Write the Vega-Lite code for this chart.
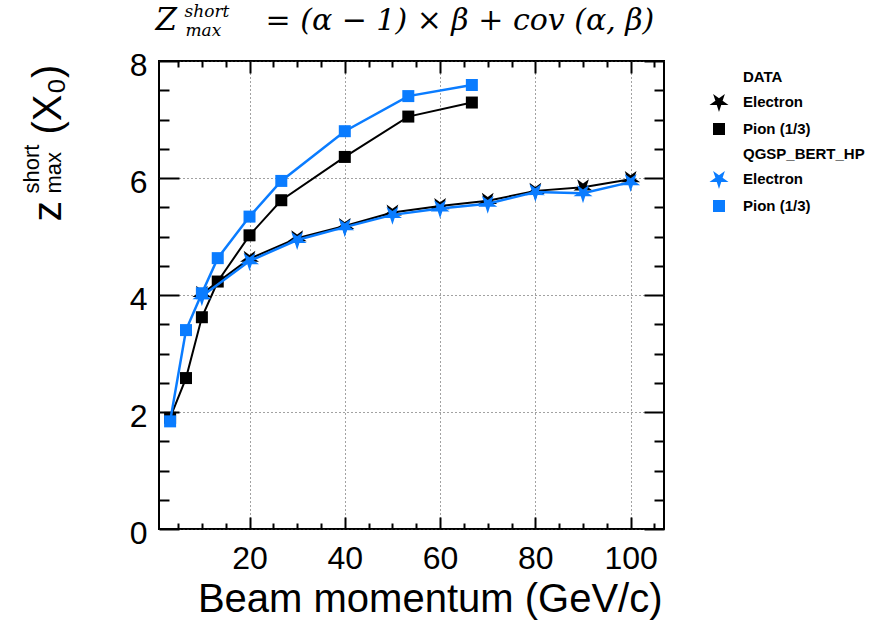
{
  "$schema": "https://vega.github.io/schema/vega-lite/v6.json",
  "width": 505,
  "height": 468,
  "autosize": {"type": "none"},
  "padding": {"left": 159, "top": 61, "right": 213, "bottom": 92},
  "background": "white",
  "data": {
    "values": [
      {"p": 10, "z": 4.02, "key": "Electron|d", "src": "DATA", "kind": "Electron"},
      {"p": 20, "z": 4.62, "key": "Electron|d", "src": "DATA", "kind": "Electron"},
      {"p": 30, "z": 4.97, "key": "Electron|d", "src": "DATA", "kind": "Electron"},
      {"p": 40, "z": 5.18, "key": "Electron|d", "src": "DATA", "kind": "Electron"},
      {"p": 50, "z": 5.41, "key": "Electron|d", "src": "DATA", "kind": "Electron"},
      {"p": 60, "z": 5.52, "key": "Electron|d", "src": "DATA", "kind": "Electron"},
      {"p": 70, "z": 5.61, "key": "Electron|d", "src": "DATA", "kind": "Electron"},
      {"p": 80, "z": 5.78, "key": "Electron|d", "src": "DATA", "kind": "Electron"},
      {"p": 90, "z": 5.84, "key": "Electron|d", "src": "DATA", "kind": "Electron"},
      {"p": 100, "z": 5.98, "key": "Electron|d", "src": "DATA", "kind": "Electron"},
      {"p": 3.33, "z": 1.9, "key": "Pion (1/3)|d", "src": "DATA", "kind": "Pion"},
      {"p": 6.67, "z": 2.58, "key": "Pion (1/3)|d", "src": "DATA", "kind": "Pion"},
      {"p": 10, "z": 3.62, "key": "Pion (1/3)|d", "src": "DATA", "kind": "Pion"},
      {"p": 13.33, "z": 4.23, "key": "Pion (1/3)|d", "src": "DATA", "kind": "Pion"},
      {"p": 20, "z": 5.02, "key": "Pion (1/3)|d", "src": "DATA", "kind": "Pion"},
      {"p": 26.67, "z": 5.62, "key": "Pion (1/3)|d", "src": "DATA", "kind": "Pion"},
      {"p": 40, "z": 6.36, "key": "Pion (1/3)|d", "src": "DATA", "kind": "Pion"},
      {"p": 53.33, "z": 7.05, "key": "Pion (1/3)|d", "src": "DATA", "kind": "Pion"},
      {"p": 66.67, "z": 7.29, "key": "Pion (1/3)|d", "src": "DATA", "kind": "Pion"},
      {"p": 10, "z": 3.98, "key": "Electron|m", "src": "MC", "kind": "Electron"},
      {"p": 20, "z": 4.58, "key": "Electron|m", "src": "MC", "kind": "Electron"},
      {"p": 30, "z": 4.94, "key": "Electron|m", "src": "MC", "kind": "Electron"},
      {"p": 40, "z": 5.16, "key": "Electron|m", "src": "MC", "kind": "Electron"},
      {"p": 50, "z": 5.37, "key": "Electron|m", "src": "MC", "kind": "Electron"},
      {"p": 60, "z": 5.48, "key": "Electron|m", "src": "MC", "kind": "Electron"},
      {"p": 70, "z": 5.56, "key": "Electron|m", "src": "MC", "kind": "Electron"},
      {"p": 80, "z": 5.76, "key": "Electron|m", "src": "MC", "kind": "Electron"},
      {"p": 90, "z": 5.74, "key": "Electron|m", "src": "MC", "kind": "Electron"},
      {"p": 100, "z": 5.93, "key": "Electron|m", "src": "MC", "kind": "Electron"},
      {"p": 3.33, "z": 1.84, "key": "Pion (1/3)|m", "src": "MC", "kind": "Pion"},
      {"p": 6.67, "z": 3.4, "key": "Pion (1/3)|m", "src": "MC", "kind": "Pion"},
      {"p": 10, "z": 4.03, "key": "Pion (1/3)|m", "src": "MC", "kind": "Pion"},
      {"p": 13.33, "z": 4.63, "key": "Pion (1/3)|m", "src": "MC", "kind": "Pion"},
      {"p": 20, "z": 5.34, "key": "Pion (1/3)|m", "src": "MC", "kind": "Pion"},
      {"p": 26.67, "z": 5.95, "key": "Pion (1/3)|m", "src": "MC", "kind": "Pion"},
      {"p": 40, "z": 6.8, "key": "Pion (1/3)|m", "src": "MC", "kind": "Pion"},
      {"p": 53.33, "z": 7.4, "key": "Pion (1/3)|m", "src": "MC", "kind": "Pion"},
      {"p": 66.67, "z": 7.59, "key": "Pion (1/3)|m", "src": "MC", "kind": "Pion"}
    ]
  },
  "config": {
    "view": {"stroke": "black", "strokeWidth": 2},
    "axis": {
      "grid": false, "domain": false, "labels": false, "ticks": false,
      "tickColor": "black", "tickWidth": 2,
      "labelFont": "Liberation Sans", "labelFontSize": 32, "labelColor": "black",
      "labelFlush": false, "labelOverlap": false, "labelBound": false,
      "titleFontWeight": "normal", "titleColor": "black", "titlePadding": 0, "titleLimit": 1000,
      "gridColor": "#444", "gridDash": [1, 3], "gridWidth": 1, "gridOpacity": 1
    },
    "legend": {
      "orient": "none", "legendX": 550, "legendY": 6, "padding": 0,
      "labelFont": "Liberation Sans", "labelFontSize": 15, "labelFontWeight": "bold", "labelColor": "black",
      "symbolSize": 400, "symbolStrokeWidth": 0, "symbolOpacity": 1, "rowPadding": 7, "labelOffset": 14
    }
  },
  "resolve": {"axis": {"x": "independent", "y": "independent"}},
  "layer": [
    {
      "transform": [{"filter": "datum.src === 'DATA'"}],
      "mark": {"type": "line", "color": "black", "strokeWidth": 2},
      "encoding": {
        "x": {"field": "p", "type": "quantitative", "scale": {"domain": [1, 107], "nice": false, "zero": false},
          "axis": {"orient": "bottom", "grid": true, "labels": true, "values": [20, 40, 60, 80, 100], "labelPadding": 14,
            "title": "Beam momentum (GeV/c)", "titleFont": "Liberation Sans", "titleFontSize": 40,
            "titleX": 503, "titleY": 82, "titleAlign": "right", "titleBaseline": "alphabetic", "titleAngle": 0}},
        "y": {"field": "z", "type": "quantitative", "scale": {"domain": [0, 8], "nice": false, "zero": false},
          "axis": {"orient": "left", "grid": true, "labels": true, "values": [0, 2, 4, 6, 8], "labelPadding": 12, "labelOffset": 4,
            "title": "z", "titleFont": "Liberation Sans", "titleFontSize": 41,
            "titleX": -99, "titleY": 160, "titleAlign": "left", "titleBaseline": "alphabetic", "titleAngle": -90}},
        "detail": {"field": "key"}
      }
    },
    {
      "transform": [{"filter": "datum.src === 'DATA' && datum.kind === 'Electron'"}],
      "mark": {"type": "point", "filled": true, "opacity": 1, "size": 400, "strokeWidth": 0},
      "encoding": {
        "x": {"field": "p", "type": "quantitative", "scale": {"domain": [1, 107], "nice": false, "zero": false},
          "axis": {"orient": "bottom", "ticks": true, "tickSize": -12, "values": [20, 40, 60, 80, 100],
            "title": "= (α − 1) × β + cov (α, β)", "titleFont": "DejaVu Serif", "titleFontStyle": "italic", "titleFontSize": 30,
            "titleX": 106, "titleY": -500, "titleAlign": "left", "titleBaseline": "alphabetic", "titleAngle": 0}},
        "y": {"field": "z", "type": "quantitative", "scale": {"domain": [0, 8], "nice": false, "zero": false},
          "axis": {"orient": "left", "ticks": true, "tickSize": -20, "values": [0, 2, 4, 6, 8],
            "title": "short", "titleFont": "Liberation Sans", "titleFontSize": 22,
            "titleX": -121, "titleY": 132, "titleAlign": "left", "titleBaseline": "alphabetic", "titleAngle": -90}},
        "color": {"field": "key", "type": "nominal",
          "scale": {"domain": ["DATA", "Electron|d", "Pion (1/3)|d", "QGSP_BERT_HP", "Electron|m", "Pion (1/3)|m"],
            "range": ["black", "black", "black", "black", "#0a7cff", "#0a7cff"]},
          "legend": {"title": null, "labelExpr": "split(datum.label, '|')[0]"}},
        "shape": {"field": "key", "type": "nominal",
          "scale": {"domain": ["DATA", "Electron|d", "Pion (1/3)|d", "QGSP_BERT_HP", "Electron|m", "Pion (1/3)|m"],
            "range": ["M0,0", "M0,1L-0.223,0.307L-0.951,0.309L-0.361,-0.117L-0.588,-0.809L0,-0.38L0.588,-0.809L0.361,-0.117L0.951,0.309L0.223,0.307Z", "M-0.6,-0.6L0.6,-0.6L0.6,0.6L-0.6,0.6Z", "M0,0", "M0,1L-0.223,0.307L-0.951,0.309L-0.361,-0.117L-0.588,-0.809L0,-0.38L0.588,-0.809L0.361,-0.117L0.951,0.309L0.223,0.307Z", "M-0.6,-0.6L0.6,-0.6L0.6,0.6L-0.6,0.6Z"]},
          "legend": {"title": null, "labelExpr": "split(datum.label, '|')[0]"}}
      }
    },
    {
      "transform": [{"filter": "datum.src === 'DATA' && datum.kind === 'Pion'"}],
      "mark": {"type": "point", "filled": true, "opacity": 1, "size": 400, "strokeWidth": 0},
      "encoding": {
        "x": {"field": "p", "type": "quantitative", "scale": {"domain": [1, 107], "nice": false, "zero": false},
          "axis": {"orient": "bottom", "ticks": true, "tickSize": -6, "values": [5, 10, 15, 25, 30, 35, 45, 50, 55, 65, 70, 75, 85, 90, 95, 105], "title": null}},
        "y": {"field": "z", "type": "quantitative", "scale": {"domain": [0, 8], "nice": false, "zero": false},
          "axis": {"orient": "left", "ticks": true, "tickSize": -10, "values": [0.5, 1, 1.5, 2.5, 3, 3.5, 4.5, 5, 5.5, 6.5, 7, 7.5],
            "title": "max", "titleFont": "Liberation Sans", "titleFontSize": 22,
            "titleX": -99, "titleY": 132, "titleAlign": "left", "titleBaseline": "alphabetic", "titleAngle": -90}},
        "color": {"field": "key", "type": "nominal"},
        "shape": {"field": "key", "type": "nominal"}
      }
    },
    {
      "transform": [{"filter": "datum.src === 'MC'"}],
      "mark": {"type": "line", "color": "#0a7cff", "strokeWidth": 2.5},
      "encoding": {
        "x": {"field": "p", "type": "quantitative", "scale": {"domain": [1, 107], "nice": false, "zero": false},
          "axis": {"orient": "top", "ticks": true, "tickSize": -12, "values": [20, 40, 60, 80, 100],
            "title": "Z", "titleFont": "DejaVu Serif", "titleFontStyle": "italic", "titleFontSize": 31,
            "titleX": -4, "titleY": -32, "titleAlign": "left", "titleBaseline": "alphabetic", "titleAngle": 0}},
        "y": {"field": "z", "type": "quantitative", "scale": {"domain": [0, 8], "nice": false, "zero": false},
          "axis": {"orient": "right", "ticks": true, "tickSize": -20, "values": [0, 2, 4, 6, 8], "title": null}},
        "detail": {"field": "key"}
      }
    },
    {
      "transform": [{"filter": "datum.src === 'MC' && datum.kind === 'Electron'"}],
      "mark": {"type": "point", "filled": true, "opacity": 1, "size": 400, "strokeWidth": 0},
      "encoding": {
        "x": {"field": "p", "type": "quantitative", "scale": {"domain": [1, 107], "nice": false, "zero": false},
          "axis": {"orient": "top", "ticks": true, "tickSize": -6, "values": [5, 10, 15, 25, 30, 35, 45, 50, 55, 65, 70, 75, 85, 90, 95, 105],
            "title": "short", "titleFont": "DejaVu Serif", "titleFontStyle": "italic", "titleFontSize": 17,
            "titleX": 25, "titleY": -45, "titleAlign": "left", "titleBaseline": "alphabetic", "titleAngle": 0}},
        "y": {"field": "z", "type": "quantitative", "scale": {"domain": [0, 8], "nice": false, "zero": false},
          "axis": {"orient": "right", "ticks": true, "tickSize": -10, "values": [0.5, 1, 1.5, 2.5, 3, 3.5, 4.5, 5, 5.5, 6.5, 7, 7.5], "title": null}},
        "color": {"field": "key", "type": "nominal"},
        "shape": {"field": "key", "type": "nominal"}
      }
    },
    {
      "transform": [{"filter": "datum.src === 'MC' && datum.kind === 'Pion'"}],
      "mark": {"type": "point", "filled": true, "opacity": 1, "size": 400, "strokeWidth": 0},
      "encoding": {
        "x": {"field": "p", "type": "quantitative", "scale": {"domain": [1, 107], "nice": false, "zero": false},
          "axis": {"orient": "top", "values": [],
            "title": "max", "titleFont": "DejaVu Serif", "titleFontStyle": "italic", "titleFontSize": 17,
            "titleX": 26, "titleY": -26, "titleAlign": "left", "titleBaseline": "alphabetic", "titleAngle": 0}},
        "y": {"field": "z", "type": "quantitative", "scale": {"domain": [0, 8], "nice": false, "zero": false},
          "axis": {"orient": "left", "values": [],
            "title": "(X₀)", "titleFont": "Liberation Sans", "titleFontSize": 40,
            "titleX": -99, "titleY": 73, "titleAlign": "left", "titleBaseline": "alphabetic", "titleAngle": -90}},
        "color": {"field": "key", "type": "nominal"},
        "shape": {"field": "key", "type": "nominal"}
      }
    }
  ]
}
